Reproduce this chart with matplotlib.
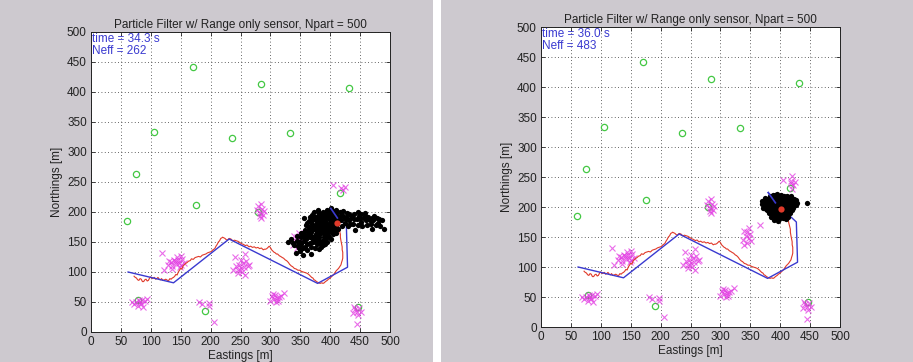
import matplotlib
matplotlib.use("Agg")
import matplotlib.pyplot as plt
from matplotlib.patches import Rectangle

plt.rcParams['font.family'] = ['Liberation Sans', 'DejaVu Sans']

# ---------------- data ----------------
title = "Particle Filter w/ Range only sensor, Npart = 500"
ticks = [0, 50, 100, 150, 200, 250, 300, 350, 400, 450, 500]

# landmarks (true positions)
lm_x = [171, 284, 431, 106, 235, 333, 76, 175, 61, 416, 190, 79, 280, 446]
lm_y = [442, 413, 406, 334, 323, 331, 263, 212, 185, 231, 35, 53, 200, 41]

# landmark observations
obs_x = [118, 122, 128, 133, 136, 140, 142, 145, 147, 150, 152, 148, 138, 155, 143, 135, 150, 130,
         240, 243, 246, 248, 250, 252, 254, 256, 258, 260, 262, 238, 257, 265, 250, 245,
         280, 284, 286, 282, 288, 285, 290, 278, 283,
         68, 72, 78, 82, 84, 86, 90, 93, 80, 75, 87,
         300, 303, 306, 308, 311, 313, 315, 318, 322, 309, 304,
         438, 442, 445, 448, 451, 445, 440, 446,
         405, 418, 422, 425,
         180, 186, 198, 198, 205,
         338, 342, 345, 348, 344, 350, 340, 347]
obs_y = [132, 103, 112, 116, 110, 118, 113, 120, 115, 112, 122, 108, 120, 115, 125, 105, 127, 118,
         125, 110, 103, 112, 106, 100, 115, 108, 95, 118, 110, 103, 130, 112, 120, 98,
         210, 214, 205, 198, 195, 190, 202, 203, 193,
         50, 47, 44, 50, 46, 53, 52, 55, 54, 50, 42,
         52, 60, 55, 62, 57, 52, 58, 60, 65, 50, 64,
         32, 38, 34, 40, 33, 13, 42, 28,
         245, 240, 236, 242,
         50, 46, 49, 44, 17,
         145, 152, 158, 148, 140, 155, 160, 165]
obs2_x = [367, 420, 420, 418, 340, 352]
obs2_y = [170, 252, 230, 244, 137, 143]

# true path
true_x_a = [62, 138, 231, 379, 429, 427, 412, 401]
true_y_a = [100, 82, 155, 81, 108, 178, 190, 206]
true_x_b = [62, 138, 231, 379, 429, 427, 413, 392, 380]
true_y_b = [100, 82, 155, 81, 108, 175, 188, 207, 224]

# estimated path (x, y)
est_path = [
    (72, 93), (74, 91), (76, 90), (78, 87), (80, 86), (82, 89), (84, 88), (86, 84), (88, 84),
    (90, 87), (92, 88), (94, 85), (96, 86), (98, 90), (100, 92), (102, 89), (104, 90), (106, 91),
    (108, 88), (110, 89), (112, 91), (114, 88), (116, 87), (118, 89), (120, 86), (123, 87),
    (125, 88), (128, 86), (130, 86), (132, 89), (134, 88), (136, 90), (138, 91), (140, 93),
    (142, 96), (144, 95), (146, 100), (148, 103), (150, 106), (152, 105), (154, 110), (156, 112),
    (158, 114), (161, 116), (163, 118), (166, 119), (168, 122), (171, 121), (174, 124), (177, 125),
    (180, 126), (183, 125), (186, 128), (189, 129), (192, 130), (195, 132), (198, 133), (201, 134),
    (204, 137), (207, 139), (209, 143), (211, 146), (213, 150), (215, 152), (217, 156), (219, 157),
    (220, 158), (222, 157), (224, 156), (226, 154), (228, 153), (231, 156), (234, 155), (237, 152),
    (240, 153), (243, 152), (246, 151), (249, 149), (252, 147), (255, 146), (258, 144), (261, 145),
    (264, 142), (267, 143), (270, 141), (273, 142), (276, 140), (279, 141), (282, 139), (285, 140),
    (288, 137), (290, 138), (292, 138), (294, 139), (296, 141), (298, 143), (299, 142), (301, 139),
    (302, 137), (304, 135), (306, 133), (308, 132), (310, 130), (312, 130), (315, 127), (317, 126),
    (320, 124), (322, 123), (325, 120), (327, 119), (330, 116), (332, 113), (335, 110), (337, 109),
    (340, 106), (343, 105), (346, 103), (349, 103), (352, 101), (355, 100), (358, 99), (361, 98),
    (364, 96), (366, 94), (369, 91), (371, 90), (373, 87), (375, 86), (377, 84), (379, 83),
    (381, 82), (383, 81), (386, 82), (388, 81), (390, 82), (392, 84), (395, 86), (397, 88),
    (400, 90), (402, 92), (404, 94), (406, 96), (408, 99), (410, 102), (412, 104), (414, 106),
    (416, 109), (418, 112), (419, 116), (420, 119), (421, 123), (421, 128), (421, 133), (420, 137),
    (420, 142), (419, 147), (418, 152), (417, 158), (417, 163), (416, 167), (415, 171), (414, 175),
    (414, 179), (414, 182),
]
est_tail = [(416, 184), (414, 187), (412, 190), (409, 192), (407, 194), (404, 196), (402, 197)]

# particles
part_a_x = [380, 385, 390, 395, 400, 405, 410, 388, 392, 398, 403, 408, 383, 390, 396, 402, 407, 412,
            378, 385, 392, 398, 404, 376, 372, 368, 374, 380, 386, 393, 370, 375, 382, 365, 362, 366,
            372, 378, 360, 356, 352, 348, 345, 340, 352, 358, 364, 370, 388, 395, 415, 418, 420, 424,
            428, 432, 436, 440, 444, 448, 452, 456, 460, 464, 468, 472, 476, 480, 484, 490, 430, 438,
            446, 454, 462, 442, 470, 425, 420, 434, 400, 395, 385, 378, 383, 377, 360, 355, 345, 338,
            335, 330, 350, 358, 366, 374, 362, 343, 355, 368, 381, 388, 395, 402, 410, 413, 405, 397,
            389, 382, 376, 369, 362, 357, 366, 373, 380, 402, 409, 416, 422, 447, 458, 466, 474, 478,
            486, 392, 398, 386, 379, 371, 359, 352, 347, 366, 426, 433, 452, 408, 403,
            374, 379, 384, 391, 396, 401, 406, 411, 381, 387, 394, 399, 404, 409, 376, 382, 389, 395,
            401, 368, 371, 377, 383, 390, 364, 369, 374, 379, 386, 393, 399, 406, 363, 357, 349, 346,
            354, 361, 368, 376, 384, 392, 398, 415, 418, 427, 431, 439, 450, 458, 470, 482, 405, 398,
            392, 372, 378, 388, 403, 410]
part_a_y = [185, 190, 195, 198, 200, 195, 198, 180, 185, 188, 183, 188, 175, 172, 176, 172, 176, 180,
            168, 165, 162, 166, 163, 178, 172, 166, 160, 156, 152, 157, 180, 192, 198, 175, 168, 158,
            150, 146, 160, 152, 146, 140, 152, 145, 158, 170, 185, 195, 200, 203, 192, 186, 195, 190,
            198, 186, 192, 196, 188, 194, 184, 190, 186, 192, 180, 186, 178, 182, 176, 172, 176, 180,
            178, 176, 178, 170, 172, 182, 176, 194, 178, 170, 170, 178, 185, 186, 178, 165, 160, 148,
            155, 150, 135, 142, 148, 140, 136, 132, 128, 130, 138, 145, 150, 155, 165, 172, 170, 160,
            158, 163, 170, 175, 182, 190, 192, 200, 203, 206, 203, 200, 202, 200, 198, 186, 194, 190,
            186, 176, 168, 148, 154, 158, 155, 165, 147, 168, 188, 180, 196, 184, 192,
            188, 193, 197, 190, 193, 196, 191, 193, 181, 176, 180, 175, 179, 172, 163, 159, 166, 162,
            168, 160, 154, 151, 148, 152, 171, 186, 172, 174, 185, 168, 182, 184, 163, 158, 150, 143,
            140, 147, 142, 156, 141, 146, 158, 186, 193, 191, 197, 188, 190, 193, 190, 188, 202, 202,
            199, 188, 182, 170, 176, 186]

part_b_x = [370, 372, 374, 376, 378, 378, 380, 381, 382, 383, 384, 385, 386, 387, 388, 389, 390, 391,
            392, 393, 394, 395, 396, 397, 398, 399, 400, 401, 402, 403, 404, 405, 406, 407, 408, 409,
            410, 411, 412, 413, 414, 415, 416, 417, 418, 419, 420, 421, 422, 424, 426, 428, 384, 390,
            398, 404, 410, 395, 402, 386, 392, 396, 400, 404, 408, 412, 382, 388, 394, 398, 402, 406,
            410, 376, 379, 373, 416, 414, 419, 411, 399, 393, 389, 385, 397, 403, 407, 413, 444, 390,
            382, 377, 406, 399, 395, 391, 369, 375, 387, 392, 409, 418, 423, 427, 396, 385]
part_b_y = [205, 198, 210, 202, 195, 214, 207, 200, 190, 218, 212, 204, 196, 186, 220, 208, 200, 192,
            214, 182, 205, 197, 189, 216, 210, 202, 194, 186, 213, 207, 199, 191, 218, 204, 196, 188,
            211, 200, 193, 206, 215, 198, 190, 208, 202, 195, 212, 205, 198, 208, 203, 207, 183, 178,
            180, 182, 180, 222, 220, 210, 204, 196, 208, 214, 206, 214, 204, 194, 212, 186, 200, 210,
            202, 208, 200, 204, 205, 212, 210, 218, 216, 198, 204, 198, 192, 188, 184, 184, 207, 186,
            210, 196, 200, 196, 208, 214, 210, 215, 214, 220, 216, 218, 213, 212, 176, 191]

est_x = [pt[0] for pt in est_path]
est_y = [pt[1] for pt in est_path]
tail_x = [pt[0] for pt in est_tail]
tail_y = [pt[1] for pt in est_tail]

panels = [
    dict(rect=[91, 30, 299, 300], tx=true_x_a, ty=true_y_a, ex=est_x, ey=est_y,
         px=part_a_x, py=part_a_y, info="time = 34.3 s\nNeff = 262",
         extra_obs=False, est_pos=(411, 182)),
    dict(rect=[541, 35, 299, 300], tx=true_x_b, ty=true_y_b, ex=est_x + tail_x,
         ey=est_y + tail_y, px=part_b_x, py=part_b_y, info="time = 36.0 s\nNeff = 483",
         extra_obs=True, est_pos=(401, 197)),
]

W, H = 913, 362
fig = plt.figure(figsize=(W / 100, H / 100), dpi=100)
fig.patch.set_facecolor('#cdc9cf')
fig.patches.append(Rectangle((433 / W, 0), 8 / W, 1, transform=fig.transFigure,
                             facecolor='white', edgecolor='none', zorder=0))

blue = '#3a3ad0'
red = '#e03a2a'
mag = '#e23ce2'
green = '#44c844'

for p in panels:
    l, b, w, h = p['rect']
    ax = fig.add_axes([l / W, b / H, w / W, h / H])
    ax.set_facecolor('white')
    ax.set_xlim(0, 500)
    ax.set_ylim(0, 500)
    ax.set_xticks(ticks)
    ax.set_yticks(ticks)
    ax.grid(True, color='#333333', linestyle=(0, (1, 3)), linewidth=0.6)
    ax.set_axisbelow(True)
    ax.tick_params(direction='in', length=3, width=0.6, top=True, right=True,
                   labelsize=8.5, colors='#222222', pad=3)
    for s in ax.spines.values():
        s.set_linewidth(0.7)
        s.set_color('#222222')

    ax.plot(lm_x, lm_y, 'o', mfc='none', mec=green, ms=4.5, mew=0.9, zorder=3)
    ox = obs_x + (obs2_x if p['extra_obs'] else [])
    oy = obs_y + (obs2_y if p['extra_obs'] else [])
    ax.plot(ox, oy, 'x', color=mag, ms=4, mew=0.8, alpha=0.75, zorder=4)
    ax.plot(p['ex'], p['ey'], '-', color=red, lw=0.8, zorder=5)
    ax.plot(p['tx'], p['ty'], '-', color=blue, lw=1.0, zorder=5)
    ax.plot(p['px'], p['py'], 'o', color='black', ms=3.8, mew=0, zorder=6)
    ax.plot(p['tx'][-2:], p['ty'][-2:], '-', color=blue, lw=1.2, zorder=7)
    ax.plot([p['est_pos'][0]], [p['est_pos'][1]], 'o', color=red, ms=4.5, mew=0, zorder=8)

    ax.text(2, 498, p['info'], color=blue, fontsize=8.5, va='top', ha='left',
            linespacing=0.95, zorder=9)
    ax.set_title(title, fontsize=8.5, color='#222222', pad=3)
    ax.set_xlabel('Eastings [m]', fontsize=8.5, color='#222222', labelpad=1)
    ax.set_ylabel('Northings [m]', fontsize=8.5, color='#222222', labelpad=3)

fig.savefig('out.png', dpi=100, facecolor=fig.get_facecolor())
